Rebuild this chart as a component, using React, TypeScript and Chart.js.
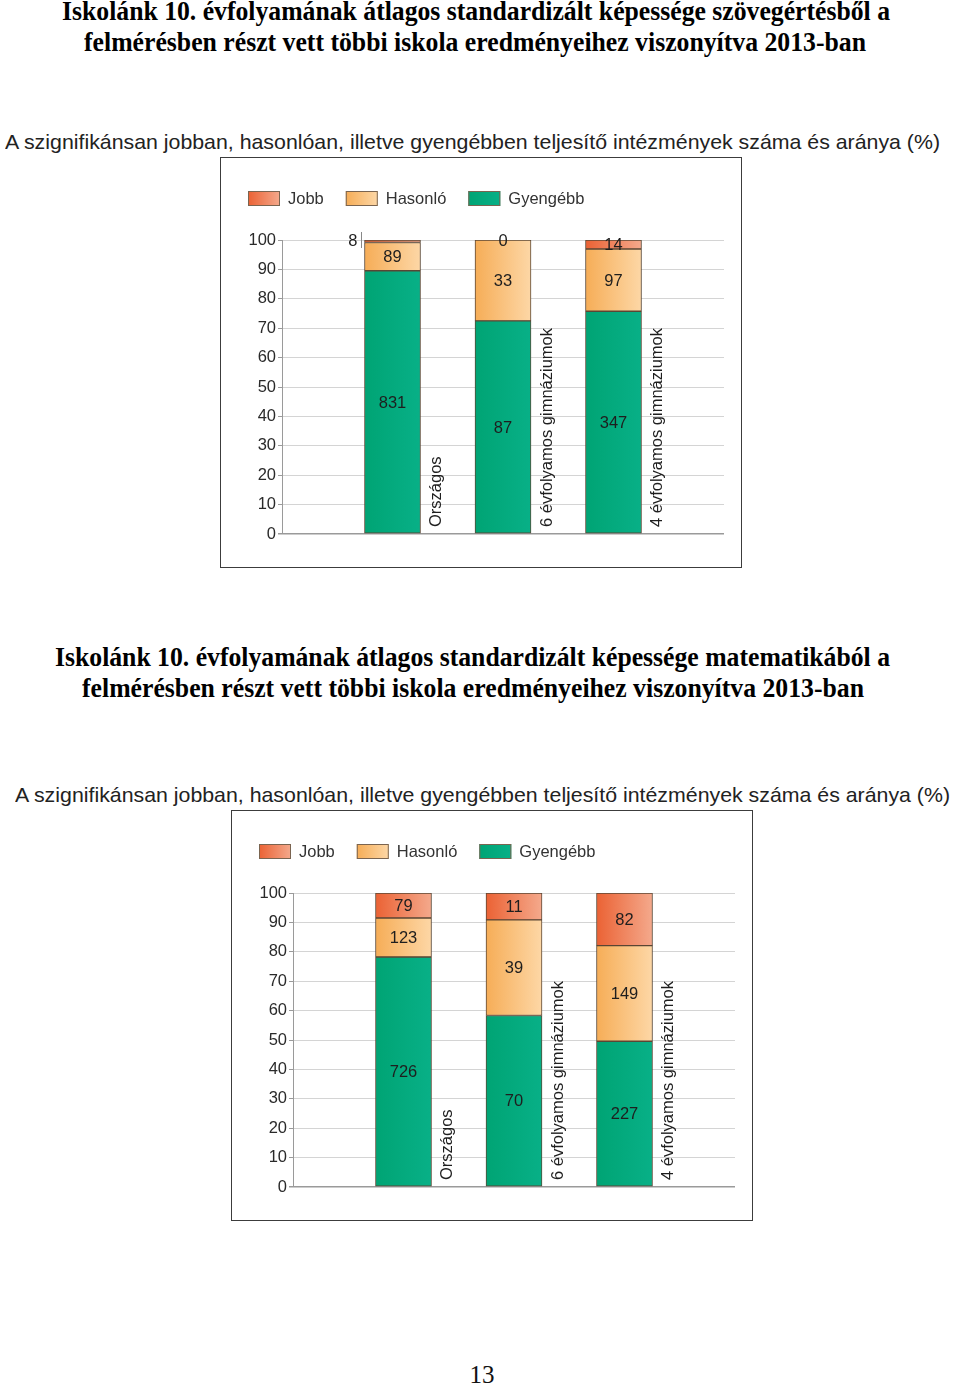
import React, { useEffect, useLayoutEffect, useRef } from "react";
import { Chart, registerables } from "chart.js";

Chart.register(...registerables);

// ---------- data ----------
const categories = ["Országos", "6 évfolyamos gimnáziumok", "4 évfolyamos gimnáziumok"];
const seriesNames = ["Jobb", "Hasonló", "Gyengébb"];

// counts of institutions (reading comprehension)
const readingBetter = [8, 0, 14];
const readingSimilar = [89, 33, 97];
const readingWeaker = [831, 87, 347];

// counts of institutions (mathematics)
const mathBetter = [79, 11, 82];
const mathSimilar = [123, 39, 149];
const mathWeaker = [726, 70, 227];

const yTickValues = [0, 10, 20, 30, 40, 50, 60, 70, 80, 90, 100];

const titleReading1 = "Iskolánk 10. évfolyamának átlagos standardizált képessége szövegértésből a";
const titleReading2 = "felmérésben részt vett többi iskola eredményeihez viszonyítva 2013-ban";
const titleMath1 = "Iskolánk 10. évfolyamának átlagos standardizált képessége matematikából a";
const titleMath2 = "felmérésben részt vett többi iskola eredményeihez viszonyítva 2013-ban";
const chartSubtitle =
  "A szignifikánsan jobban, hasonlóan, illetve gyengébben teljesítő intézmények száma és aránya (%)";
const pageNumber = "13";

// ---------- styles ----------
const SANS = '"Liberation Sans", Arial, sans-serif';
const SERIF = '"Liberation Serif", "Times New Roman", serif';
const seriesColors: Record<string, [string, string]> = {
  Jobb: ["#eb6234", "#f4a98c"],
  Hasonló: ["#f6ad57", "#fdd7a6"],
  Gyengébb: ["#00a474", "#08b087"],
};
const BAR_W = 56;
const SEG_BORDER = "#5a4634";

function FitText(props: {
  text: string;
  left: number;
  width: number;
  baseline: number;
  size: number;
  family: string;
  weight?: number;
  color?: string;
}) {
  const ref = useRef<HTMLSpanElement>(null);
  useLayoutEffect(() => {
    const el = ref.current;
    if (!el) return;
    el.style.transform = "none";
    const w = el.getBoundingClientRect().width;
    if (w > 0) el.style.transform = `scaleX(${props.width / w})`;
  }, [props.text, props.width]);
  const { size } = props;
  return (
    <span
      ref={ref}
      style={{
        position: "absolute",
        left: props.left,
        top: props.baseline - size * 0.84,
        whiteSpace: "nowrap",
        transformOrigin: "0 0",
        fontFamily: props.family,
        fontSize: size,
        fontWeight: props.weight ?? 400,
        lineHeight: `${size}px`,
        color: props.color ?? "#000",
      }}
    >
      {props.text}
    </span>
  );
}

function makeFill(colors: [string, string]) {
  return (ctx: any) => {
    const chart = ctx.chart;
    const xs = chart.scales && chart.scales.x;
    if (!xs || ctx.type !== "data" || typeof ctx.dataIndex !== "number") return colors[0];
    const cx = xs.getPixelForValue(ctx.dataIndex);
    if (!Number.isFinite(cx)) return colors[0];
    const g = chart.ctx.createLinearGradient(cx - BAR_W / 2, 0, cx + BAR_W / 2, 0);
    g.addColorStop(0, colors[0]);
    g.addColorStop(1, colors[1]);
    return g;
  };
}

const legendPlugin = {
  id: "customLegend",
  afterDraw(chart: any) {
    const ctx = chart.ctx;
    ctx.save();
    ctx.font = `16.5px ${SANS}`;
    ctx.textBaseline = "middle";
    ctx.textAlign = "left";
    let x = 27;
    const y = 33;
    seriesNames.forEach((name) => {
      const c = seriesColors[name];
      const g = ctx.createLinearGradient(x, 0, x + 32, 0);
      g.addColorStop(0, c[0]);
      g.addColorStop(1, c[1]);
      ctx.fillStyle = g;
      ctx.fillRect(x, y, 32, 15);
      ctx.strokeStyle = "#7a6450";
      ctx.lineWidth = 1;
      ctx.strokeRect(x + 0.5, y + 0.5, 31, 14);
      ctx.fillStyle = "#333";
      ctx.fillText(name, x + 40, y + 8);
      x += 40 + ctx.measureText(name).width + 22;
    });
    ctx.restore();
  },
};

const valueLabelPlugin = {
  id: "valueLabels",
  afterDatasetsDraw(chart: any) {
    const ctx = chart.ctx;
    ctx.save();
    ctx.font = `16.5px ${SANS}`;
    ctx.fillStyle = "#1e1e1e";
    ctx.textBaseline = "middle";
    chart.data.datasets.forEach((ds: any, di: number) => {
      const meta = chart.getDatasetMeta(di);
      meta.data.forEach((bar: any, i: number) => {
        const count = ds.counts[i];
        if (count == null) return;
        const { x, y, base, width } = bar.getProps(["x", "y", "base", "width"], true);
        const h = Math.abs(base - y);
        if (count > 0 && h < 6) {
          const lx = x - width / 2 - 4;
          ctx.textAlign = "right";
          ctx.fillText(String(count), lx - 3, y + 1);
          ctx.strokeStyle = "#888";
          ctx.lineWidth = 1;
          ctx.beginPath();
          ctx.moveTo(Math.round(lx) + 0.5, y - 8);
          ctx.lineTo(Math.round(lx) + 0.5, y + 8);
          ctx.stroke();
        } else {
          ctx.textAlign = "center";
          ctx.fillText(String(count), x, (y + base) / 2 + 1);
        }
      });
    });
    ctx.restore();
  },
};

const categoryLabelPlugin = {
  id: "categoryLabels",
  afterDatasetsDraw(chart: any) {
    const ctx = chart.ctx;
    const xs = chart.scales.x;
    const area = chart.chartArea;
    ctx.save();
    ctx.font = `16.5px ${SANS}`;
    ctx.fillStyle = "#1e1e1e";
    ctx.textAlign = "left";
    ctx.textBaseline = "middle";
    (chart.data.labels as string[]).forEach((label, i) => {
      if (!label) return;
      const cx = xs.getPixelForValue(i) + BAR_W / 2 + 16;
      ctx.save();
      ctx.translate(cx, area.bottom - 7);
      ctx.rotate(-Math.PI / 2);
      ctx.fillText(label, 0, 0);
      ctx.restore();
    });
    ctx.restore();
  },
};

function ChartBox(props: { left: number; top: number; better: number[]; similar: number[]; weaker: number[] }) {
  const ref = useRef<HTMLCanvasElement>(null);
  useEffect(() => {
    if (!ref.current) return;
    const { better, similar, weaker } = props;
    const totals = categories.map((_, i) => better[i] + similar[i] + weaker[i]);
    const pct = (arr: number[]) => [null, ...arr.map((v, i) => (v / totals[i]) * 100), null];
    const pad = (arr: number[]) => [null, ...arr, null];
    const bySeries: Record<string, number[]> = { Jobb: better, Hasonló: similar, Gyengébb: weaker };
    const order = ["Gyengébb", "Hasonló", "Jobb"];
    const chart = new Chart(ref.current, {
      type: "bar",
      data: {
        labels: ["", ...categories, ""],
        datasets: order.map((name) => ({
          label: name,
          data: pct(bySeries[name]),
          counts: pad(bySeries[name]),
          backgroundColor: makeFill(seriesColors[name]),
          borderColor: SEG_BORDER,
          borderWidth: 1,
          borderSkipped: false,
          barThickness: BAR_W,
        })) as any,
      },
      options: {
        responsive: false,
        animation: false,
        events: [],
        layout: { padding: { top: 82, right: 17, bottom: 33, left: 0 } },
        plugins: { legend: { display: false }, tooltip: { enabled: false } },
        scales: {
          x: { type: "category", stacked: true, offset: false, display: false },
          y: {
            stacked: true,
            min: 0,
            max: 100,
            afterFit: (s: any) => {
              s.width = 61;
            },
            afterBuildTicks: (s: any) => {
              s.ticks = yTickValues.map((v) => ({ value: v }));
            },
            ticks: { padding: 2, color: "#2a2a2a", font: { family: SANS, size: 16.5 } },
            grid: {
              color: (c: any) => (c.tick && c.tick.value === 0 ? "#9a9a9a" : "#d4d4d4"),
              lineWidth: (c: any) => (c.tick && c.tick.value === 0 ? 1.5 : 1),
              tickLength: 4,
              tickColor: "#9a9a9a",
            },
            border: { color: "#9a9a9a", width: 1 },
          },
        },
      } as any,
      plugins: [legendPlugin, valueLabelPlugin, categoryLabelPlugin],
    });
    return () => chart.destroy();
  }, []);
  return (
    <div
      style={{
        position: "absolute",
        left: props.left,
        top: props.top,
        width: 520,
        height: 409,
        border: "1px solid #3c3c3c",
        background: "#fff",
      }}
    >
      <canvas ref={ref} width={520} height={409} style={{ display: "block", width: 520, height: 409 }} />
    </div>
  );
}

export default function App() {
  return (
    <div
      style={{
        position: "absolute",
        left: 0,
        top: 0,
        width: 960,
        height: 1390,
        background: "#fff",
        overflow: "hidden",
      }}
    >
      <FitText text={titleReading1} left={62} width={828} baseline={21} size={28} family={SERIF} weight={700} />
      <FitText text={titleReading2} left={84} width={782} baseline={52} size={28} family={SERIF} weight={700} />
      <FitText text={chartSubtitle} left={5} width={935} baseline={149} size={21} family={SANS} color="#222" />
      <ChartBox left={220} top={157} better={readingBetter} similar={readingSimilar} weaker={readingWeaker} />

      <FitText text={titleMath1} left={55} width={835} baseline={667} size={28} family={SERIF} weight={700} />
      <FitText text={titleMath2} left={82} width={782} baseline={698} size={28} family={SERIF} weight={700} />
      <FitText text={chartSubtitle} left={15} width={935} baseline={802} size={21} family={SANS} color="#222" />
      <ChartBox left={231} top={810} better={mathBetter} similar={mathSimilar} weaker={mathWeaker} />

      <div
        style={{
          position: "absolute",
          left: 0,
          width: 964,
          top: 1383 - 25 * 0.84,
          textAlign: "center",
          fontFamily: SERIF,
          fontSize: 25,
          lineHeight: "25px",
          color: "#111",
        }}
      >
        {pageNumber}
      </div>
    </div>
  );
}
